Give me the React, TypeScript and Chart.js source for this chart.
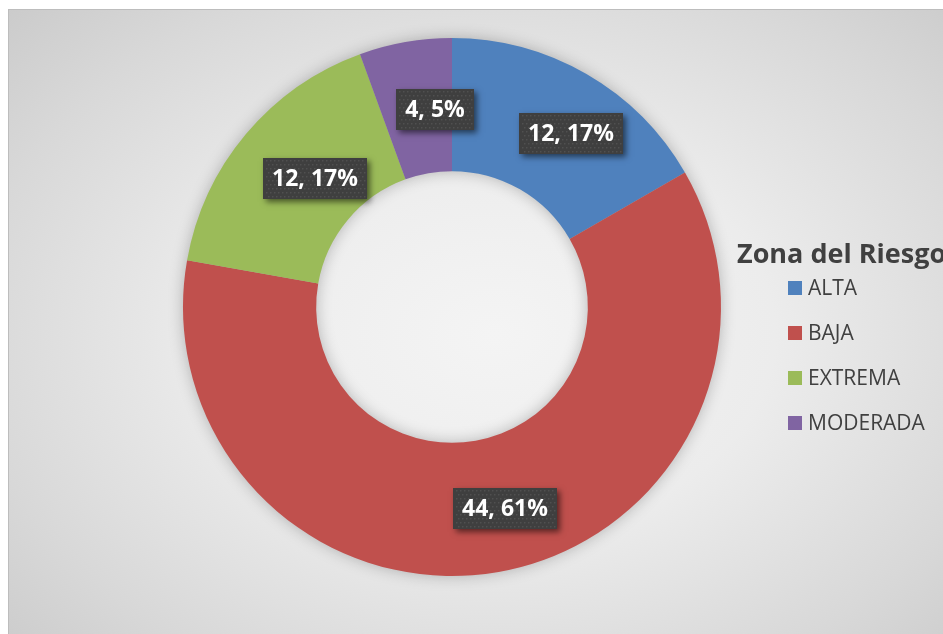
import React, { useEffect, useRef } from "react";
import { Chart, registerables } from "chart.js";

Chart.register(...registerables);

const categories = ["ALTA", "BAJA", "EXTREMA", "MODERADA"];
const values = [12, 44, 12, 4];
const percentLabels = ["17%", "61%", "17%", "5%"];
const colors = ["#4f81bd", "#c0504d", "#9bbb59", "#8064a2"];
const legendTitle = "Zona del Riesgo";

const FONT = "'Open Sans', 'DejaVu Sans', sans-serif";

const ringShadowPlugin = {
  id: "ringShadow",
  beforeDatasetsDraw(chart: any) {
    const meta = chart.getDatasetMeta(0);
    const a: any = meta.data[0];
    if (!a) return;
    const { x, y, innerRadius, outerRadius } = a;
    const ctx = chart.ctx;
    ctx.save();
    ctx.shadowColor = "rgba(0,0,0,0.28)";
    ctx.shadowBlur = 16;
    ctx.fillStyle = "#b0b0b0";
    ctx.beginPath();
    ctx.arc(x, y, outerRadius - 1, 0, Math.PI * 2);
    ctx.arc(x, y, innerRadius + 1, 0, Math.PI * 2, true);
    ctx.fill();
    ctx.restore();
  },
};

const boxLabelPlugin = {
  id: "boxLabels",
  afterDatasetsDraw(chart: any) {
    const meta = chart.getDatasetMeta(0);
    const ctx = chart.ctx;
    const ds = chart.data.datasets[0];
    meta.data.forEach((arc: any, i: number) => {
      const p = arc.tooltipPosition();
      const cx = p.x + 18;
      const cy = p.y + 2;
      const text = `${ds.data[i]}, ${percentLabels[i]}`;
      ctx.save();
      ctx.font = `bold 23px ${FONT}`;
      const tw = ctx.measureText(text).width;
      const w = Math.round(tw + 18);
      const h = 41;
      const x0 = Math.round(cx - w / 2);
      const y0 = Math.round(cy - h / 2);
      ctx.shadowColor = "rgba(0,0,0,0.55)";
      ctx.shadowBlur = 6;
      ctx.shadowOffsetX = 3;
      ctx.shadowOffsetY = 3;
      ctx.fillStyle = "#3f3f3f";
      ctx.fillRect(x0, y0, w, h);
      ctx.shadowColor = "transparent";
      ctx.shadowBlur = 0;
      ctx.shadowOffsetX = 0;
      ctx.shadowOffsetY = 0;
      ctx.fillStyle = "rgba(255,255,255,0.09)";
      for (let yy = y0 + 2; yy < y0 + h - 1; yy += 4) {
        for (let xx = x0 + 2 + (((yy - y0) / 4) % 2) * 2; xx < x0 + w - 1; xx += 4) {
          ctx.fillRect(xx, yy, 1.5, 1.5);
        }
      }
      ctx.fillStyle = "#ffffff";
      ctx.textAlign = "center";
      ctx.textBaseline = "middle";
      ctx.fillText(text, x0 + w / 2, y0 + h / 2 + 1);
      ctx.restore();
    });
  },
};

const legendPlugin = {
  id: "customLegend",
  afterDraw(chart: any) {
    const ctx = chart.ctx;
    const ds = chart.data.datasets[0];
    ctx.save();
    ctx.fillStyle = "#404040";
    ctx.textBaseline = "alphabetic";
    ctx.textAlign = "left";
    ctx.font = `bold 27px ${FONT}`;
    ctx.fillText(legendTitle, 728, 253);
    ctx.font = `21px ${FONT}`;
    chart.data.labels.forEach((lab: string, i: number) => {
      const cy = 278 + i * 45;
      ctx.fillStyle = ds.backgroundColor[i];
      ctx.fillRect(779, cy - 7, 14, 14);
      ctx.fillStyle = "#404040";
      ctx.textBaseline = "middle";
      ctx.fillText(lab, 799, cy + 1);
    });
    ctx.restore();
  },
};

export default function App() {
  const ref = useRef<HTMLCanvasElement | null>(null);
  useEffect(() => {
    if (!ref.current) return;
    const chart = new Chart(ref.current, {
      type: "doughnut",
      data: {
        labels: categories,
        datasets: [
          {
            data: values,
            backgroundColor: colors,
            borderWidth: 0,
          },
        ],
      },
      options: {
        responsive: false,
        animation: false,
        cutout: "50.5%",
        layout: { padding: { left: 174, right: 222, top: 28, bottom: 58 } },
        plugins: {
          legend: { display: false },
          tooltip: { enabled: false },
        },
      },
      plugins: [ringShadowPlugin, boxLabelPlugin, legendPlugin],
    });
    return () => chart.destroy();
  }, []);

  return (
    <div
      style={{
        position: "fixed",
        left: 8,
        top: 9,
        right: 0,
        bottom: 0,
        borderTop: "1px solid #bdbdbd",
        borderLeft: "1px solid #bdbdbd",
        background:
          "radial-gradient(ellipse 75% 80% at 52% 52%, #f4f4f4 0%, #ececec 40%, #d8d8d8 75%, #c8c8c8 100%)",
        overflow: "hidden",
      }}
    >
      <canvas ref={ref} width={934} height={624} style={{ display: "block" }} />
    </div>
  );
}
